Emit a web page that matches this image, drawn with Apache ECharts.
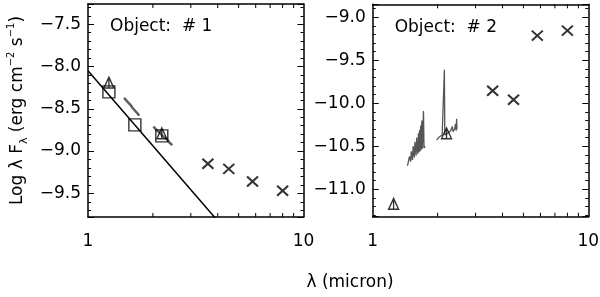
<!DOCTYPE html>
<html><head><meta charset="utf-8">
<script src="https://cdn.jsdelivr.net/npm/echarts@6/dist/echarts.min.js"></script>
<style>html,body{margin:0;padding:0;background:#fff}#c{width:600px;height:297px}</style>
</head><body><div id="c"></div>
<script>
// ---- Object 1 ----
const obj1_tri_wl = [1.25, 2.2];
const obj1_tri_val = [-8.19, -8.79];
const obj1_sq_wl = [1.25, 1.65, 2.2];
const obj1_sq_val = [-8.30, -8.69, -8.82];
const obj1_x_wl = [3.6, 4.5, 5.8, 8.0];
const obj1_x_val = [-9.15, -9.21, -9.36, -9.47];
const obj1_line_wl = [1, 10];
const obj1_line_val = [-8.05, -11.0];
const obj1_specH_wl = [1.47, 1.50, 1.53, 1.57, 1.61, 1.65, 1.69, 1.73];
const obj1_specH_val = [-8.37, -8.39, -8.42, -8.45, -8.49, -8.52, -8.55, -8.58];
const obj1_specK_wl = [2.01, 2.05, 2.10, 2.15, 2.20, 2.26, 2.32, 2.39, 2.46];
const obj1_specK_val = [-8.71, -8.73, -8.76, -8.78, -8.81, -8.84, -8.86, -8.90, -8.93];
// ---- Object 2 ----
const obj2_tri_wl = [1.25, 2.2];
const obj2_tri_val = [-11.17, -10.35];
const obj2_x_wl = [3.6, 4.5, 5.8, 8.0];
const obj2_x_val = [-9.855, -9.96, -9.215, -9.157];
const obj2_specH_wl = [1.45, 1.47, 1.48, 1.50, 1.51, 1.53, 1.54, 1.56, 1.57, 1.59, 1.60, 1.62, 1.63, 1.64, 1.65, 1.66, 1.67, 1.68, 1.69, 1.70, 1.72, 1.73, 1.74, 1.75];
const obj2_specH_val = [-10.73, -10.71, -10.62, -10.68, -10.56, -10.66, -10.50, -10.63, -10.45, -10.61, -10.40, -10.59, -10.35, -10.57, -10.31, -10.56, -10.26, -10.54, -10.20, -10.53, -10.09, -10.52, -10.51, -10.50];
const obj2_specK_wl = [1.98, 2.02, 2.06, 2.10, 2.14, 2.15, 2.16, 2.20, 2.25, 2.30, 2.34, 2.36, 2.40, 2.42, 2.44, 2.45, 2.46];
const obj2_specK_val = [-10.43, -10.40, -10.38, -10.37, -10.36, -9.61, -10.37, -10.35, -10.34, -10.32, -10.27, -10.33, -10.30, -10.24, -10.32, -10.18, -10.30];
// ---- axes ----
const xRange = [1, 10];
const xMinorTicks = [2, 3, 4, 5, 6, 7, 8, 9];
const y1Range = [-9.78, -7.26];
const y2Range = [-11.32, -8.85];
const panelTitles = ['Object:  # 1', 'Object:  # 2'];

const zip = (a, b) => a.map((v, i) => [v, b[i]]);
const FONT = 'DejaVu Sans';
const triPath = 'path://M5,0 L10,10 L0,10 Z M5,0 L5,10';
const xPath = 'path://M0,0 L10,10 M10,0 L0,10';

const grids = [
  {left: 88, right: 296.5, top: 4, bottom: 80, outerBoundsMode: 'none', containLabel: false},
  {left: 372.7, right: 11.7, top: 4.3, bottom: 80.3, outerBoundsMode: 'none', containLabel: false}
];
const fmtY = v => (v < 0 ? '\u2212' : '') + Math.abs(v).toFixed(1);
function xAx(g, pos) {
  return {type: 'log', logBase: 10, gridIndex: g, position: pos, min: xRange[0], max: xRange[1],
    axisLine: {lineStyle: {color: '#000', width: 1.5}},
    axisTick: {show: false},
    splitLine: {show: false},
    axisLabel: {show: pos === 'bottom', color: '#000', fontFamily: FONT, fontSize: 17, margin: 16}};
}
function yAx(g, pos, r, name) {
  return {type: 'value', gridIndex: g, position: pos, min: r[0], max: r[1], splitNumber: 5,
    axisLine: {show: true, lineStyle: {color: '#000', width: 1.5}},
    axisTick: {show: true, inside: true, length: 6, lineStyle: {color: '#000', width: 1}},
    minorTick: {show: true, splitNumber: 5, length: 3, lineStyle: {color: '#000', width: 1}},
    splitLine: {show: false},
    axisLabel: {show: pos === 'left', color: '#000', fontFamily: FONT, fontSize: 17, margin: 7,
      showMinLabel: false, showMaxLabel: false, formatter: fmtY},
    name: name || '', nameLocation: 'middle', nameGap: 58, nameRotate: 90,
    nameTextStyle: {color: '#000', fontFamily: FONT, fontSize: 17,
      rich: {
        n: {fontFamily: FONT, fontSize: 17, color: '#000', lineHeight: 24},
        s: {fontFamily: FONT, fontSize: 11, color: '#000', lineHeight: 11, verticalAlign: 'bottom'},
        p: {fontFamily: FONT, fontSize: 10, color: '#000', lineHeight: 10, verticalAlign: 'top'}
      }}};
}
const yName = '{n|Log \u03bb F}{s|\u03bb}{n| (erg cm}{p|\u22122}{n| s}{p|\u22121}{n|)}';

const black = {color: 'transparent', borderColor: '#000', borderWidth: 1.4};
const series = [
  {type: 'line', xAxisIndex: 0, yAxisIndex: 0, data: zip(obj1_line_wl, obj1_line_val), symbol: 'none',
    lineStyle: {color: '#000', width: 1.5}, clip: true, z: 2},
  {type: 'line', xAxisIndex: 0, yAxisIndex: 0, data: zip(obj1_specH_wl, obj1_specH_val), symbol: 'none',
    lineStyle: {color: '#606060', width: 2.5}, z: 3},
  {type: 'line', xAxisIndex: 0, yAxisIndex: 0, data: zip(obj1_specK_wl, obj1_specK_val), symbol: 'none',
    lineStyle: {color: '#606060', width: 2.5}, z: 3},
  {type: 'scatter', xAxisIndex: 0, yAxisIndex: 0, data: zip(obj1_sq_wl, obj1_sq_val), symbol: 'rect', symbolSize: 12,
    itemStyle: black, z: 5},
  {type: 'scatter', xAxisIndex: 0, yAxisIndex: 0, data: zip(obj1_tri_wl, obj1_tri_val), symbol: triPath, symbolSize: [10, 11],
    itemStyle: black, z: 5},
  {type: 'scatter', xAxisIndex: 0, yAxisIndex: 0, data: zip(obj1_x_wl, obj1_x_val), symbol: xPath, symbolSize: [11, 10],
    itemStyle: {color: 'transparent', borderColor: '#000', borderWidth: 2}, z: 5},
  {type: 'line', xAxisIndex: 2, yAxisIndex: 2, data: zip(obj2_specH_wl, obj2_specH_val), symbol: 'none',
    lineStyle: {color: '#555', width: 1.3}, z: 3},
  {type: 'line', xAxisIndex: 2, yAxisIndex: 2, data: zip(obj2_specK_wl, obj2_specK_val), symbol: 'none',
    lineStyle: {color: '#555', width: 1.3}, z: 3},
  {type: 'scatter', xAxisIndex: 2, yAxisIndex: 2, data: zip(obj2_tri_wl, obj2_tri_val), symbol: triPath, symbolSize: [10, 11],
    itemStyle: black, z: 5},
  {type: 'scatter', xAxisIndex: 2, yAxisIndex: 2, data: zip(obj2_x_wl, obj2_x_val), symbol: xPath, symbolSize: [11, 10],
    itemStyle: {color: 'transparent', borderColor: '#000', borderWidth: 2}, z: 5}
];

const chart = echarts.init(document.getElementById('c'), null, {renderer: 'canvas'});
chart.setOption({
  animation: false,
  backgroundColor: '#fff',
  grid: grids,
  xAxis: [xAx(0, 'bottom'), xAx(0, 'top'), xAx(1, 'bottom'), xAx(1, 'top')],
  yAxis: [yAx(0, 'left', y1Range, yName), yAx(0, 'right', y1Range), yAx(1, 'left', y2Range), yAx(1, 'right', y2Range)],
  series: series
});

// minor log ticks on x axes + titles
const g = [];
[[0, 0, y1Range], [1, 2, y2Range]].forEach(([gi, xi, yr], k) => {
  const yi = xi;
  const yBot = chart.convertToPixel({yAxisIndex: yi}, yr[0]);
  const yTop = chart.convertToPixel({yAxisIndex: yi}, yr[1]);
  xMinorTicks.forEach(t => {
    const px = chart.convertToPixel({xAxisIndex: xi}, t);
    g.push({type: 'line', shape: {x1: px, y1: yBot, x2: px, y2: yBot - 4}, style: {stroke: '#000', lineWidth: 1}});
    g.push({type: 'line', shape: {x1: px, y1: yTop, x2: px, y2: yTop + 4}, style: {stroke: '#000', lineWidth: 1}});
  });
  const x0 = chart.convertToPixel({xAxisIndex: xi}, xRange[0]);
  g.push({type: 'text', x: x0 + 22, y: yTop + 23, style: {text: panelTitles[k], fill: '#000', font: '17px "DejaVu Sans"', textVerticalAlign: 'middle'}});
});
g.push({type: 'text', x: 350, y: 283, style: {text: '\u03bb (micron)', fill: '#000', font: '17px "DejaVu Sans"', textAlign: 'center', textVerticalAlign: 'middle'}});
chart.setOption({graphic: g});
</script></body></html>
